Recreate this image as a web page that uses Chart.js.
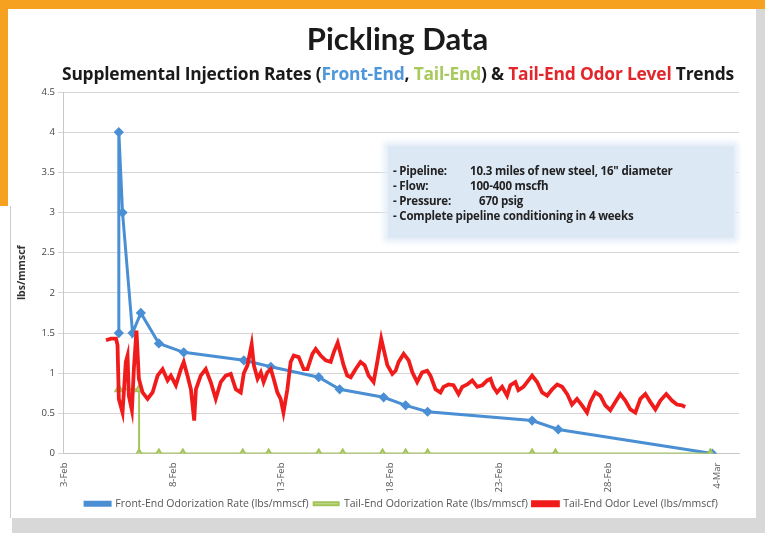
<!DOCTYPE html>
<html>
<head>
<meta charset="utf-8">
<script src="https://cdn.jsdelivr.net/npm/chart.js@4.4.0/dist/chart.umd.min.js"></script>
<style>
  html, body { margin: 0; padding: 0; background: #fff; }
  #wrap { position: relative; width: 765px; height: 533px; overflow: hidden; background: #fff; }
  #myChart { position: absolute; left: 0; top: 0; }
  .frame { position: absolute; }
  #title { position: absolute; left: 0; width: 795px; top: 19px; text-align: center;
           font: bold 31px Lato, sans-serif; color: #1a1a1a; }
  #subtitle { position: absolute; left: 62px; top: 61px; white-space: nowrap;
              font: bold 17.4px "Open Sans", sans-serif; color: #1a1a1a; letter-spacing: -0.2px; }
  #note { position: absolute; left: 388px; top: 146px; width: 346px; height: 92px;
          background: #dde8f5; box-shadow: 0 0 6px 4px #e4edf8; }
  #note div { position: absolute; left: 5px; font: bold 11.5px "Open Sans", sans-serif; color: #222; white-space: nowrap; letter-spacing: -0.2px; }
  #note span { position: absolute; }
</style>
</head>
<body>
<div id="wrap">
  <canvas id="myChart" width="765" height="533"></canvas>
  <div class="frame" style="left:0;top:0;width:765px;height:9px;background:#f6a11f"></div>
  <div class="frame" style="left:0;top:0;width:8px;height:206px;background:#f6a11f"></div>
  <div class="frame" style="left:10px;top:206px;width:1px;height:312px;background:#cfcfcf"></div>
  <div class="frame" style="left:12px;top:518px;width:753px;height:15px;background:#d8d8d8"></div>
  <div class="frame" style="left:756px;top:9px;width:9px;height:524px;background:#d8d8d8"></div>
  <div id="title">Pickling Data</div>
  <div id="subtitle">Supplemental Injection Rates (<span style="color:#4f97d8">Front-End</span>, <span style="color:#a8c95c">Tail-End</span>) &amp; <span style="color:#e3262b">Tail-End Odor Level</span> Trends</div>
  <div id="note">
    <div style="top:17px">- Pipeline:<span style="left:77px">10.3 miles of new steel, 16" diameter</span></div>
    <div style="top:32px">- Flow:<span style="left:77px">100-400 mscfh</span></div>
    <div style="top:47px">- Pressure:<span style="left:86px">670 psig</span></div>
    <div style="top:62px">- Complete pipeline conditioning in 4 weeks</div>
  </div>
</div>
<script>
// x values are days after 3-Feb
const tickLabels = ['3-Feb', '8-Feb', '13-Feb', '18-Feb', '23-Feb', '28-Feb', '4-Mar'];

const frontDays = [2.52, 2.52, 2.69, 3.15, 3.53, 4.36, 5.5, 8.26, 9.5, 11.7, 12.66, 14.68, 15.69, 16.7, 21.5, 22.7, 29.77];
const frontRate = [1.5, 4.0, 3.0, 1.5, 1.75, 1.37, 1.26, 1.16, 1.08, 0.95, 0.8, 0.7, 0.6, 0.52, 0.41, 0.3, 0.0];

const tailDays = [2.52, 3.45, 3.45, 4.36, 5.46, 8.21, 9.4, 11.7, 12.8, 14.63, 15.69, 16.7, 21.5, 22.57, 29.68];
const tailRate = [0.8, 0.8, 0, 0, 0, 0, 0, 0, 0, 0, 0, 0, 0, 0, 0];

const odorDays = [
  1.93, 2.16, 2.39, 2.46, 2.52, 2.69, 2.84, 2.92, 2.98, 3.12, 3.21, 3.33, 3.44, 3.61, 3.84, 4.07,
  4.3, 4.53, 4.76, 4.91, 5.14, 5.37, 5.5, 5.67, 5.83, 5.98, 6.06, 6.28, 6.51, 6.74, 6.97, 7.2,
  7.43, 7.66, 7.89, 8.12, 8.26, 8.43, 8.62, 8.72, 8.89, 9.04, 9.17, 9.34, 9.5, 9.63, 9.8, 9.95,
  10.08, 10.26, 10.41, 10.55, 10.78, 11.01, 11.18, 11.41, 11.56, 11.79, 12.02, 12.25, 12.39, 12.57, 12.71, 12.84,
  13.01, 13.17, 13.39, 13.62, 13.81, 13.99, 14.22, 14.39, 14.57, 14.68, 14.85, 15.08, 15.23, 15.37, 15.6, 15.83,
  16.0, 16.22, 16.45, 16.68, 16.83, 17.06, 17.29, 17.43, 17.66, 17.89, 18.12, 18.29, 18.52, 18.75, 18.98, 19.21,
  19.44, 19.59, 19.72, 19.89, 20.12, 20.35, 20.5, 20.73, 20.87, 21.1, 21.33, 21.5, 21.73, 21.96, 22.19, 22.42,
  22.65, 22.88, 23.11, 23.33, 23.56, 23.79, 24.02, 24.17, 24.4, 24.63, 24.86, 25.09, 25.32, 25.55, 25.78, 26.01,
  26.24, 26.47, 26.7, 26.93, 27.16, 27.39, 27.66, 27.92, 28.15, 28.38, 28.53
];
const odorLevel = [
  1.41, 1.43, 1.43, 1.35, 0.68, 0.51, 1.14, 1.22, 0.72, 0.54, 1.05, 1.53, 0.93, 0.76, 0.68, 0.76,
  0.97, 1.05, 0.91, 0.97, 0.85, 1.05, 1.14, 0.97, 0.8, 0.41, 0.8, 0.97, 1.05, 0.89, 0.68, 0.89,
  0.97, 0.99, 0.8, 0.76, 1.0, 1.1, 1.36, 1.1, 0.93, 1.01, 0.89, 1.01, 1.05, 0.93, 0.76, 0.68,
  0.51, 0.8, 1.14, 1.22, 1.2, 1.05, 1.05, 1.24, 1.3, 1.22, 1.16, 1.14, 1.26, 1.38, 1.24, 1.1,
  0.97, 0.95, 1.05, 1.14, 1.1, 0.97, 0.89, 1.14, 1.43, 1.3, 1.1, 0.99, 1.03, 1.14, 1.24, 1.16,
  1.01, 0.89, 1.01, 1.03, 0.97, 0.8, 0.76, 0.83, 0.86, 0.85, 0.74, 0.83, 0.86, 0.91, 0.83, 0.85,
  0.91, 0.93, 0.83, 0.76, 0.83, 0.72, 0.85, 0.89, 0.79, 0.83, 0.91, 0.97, 0.89, 0.76, 0.72, 0.8,
  0.86, 0.83, 0.74, 0.61, 0.68, 0.6, 0.51, 0.64, 0.76, 0.72, 0.6, 0.54, 0.64, 0.74, 0.66, 0.55,
  0.51, 0.68, 0.74, 0.64, 0.55, 0.66, 0.74, 0.66, 0.61, 0.6, 0.58
];

const toPoints = (xs, ys) => xs.map((x, i) => ({ x: x, y: ys[i] }));

document.addEventListener('DOMContentLoaded', () => {
  const ctx = document.getElementById('myChart');

  const data = {
    datasets: [
      {
        label: 'Front-End Odorization Rate (lbs/mmscf)',
        data: toPoints(frontDays, frontRate),
        borderColor: '#4a8fd3',
        backgroundColor: '#4a8fd3',
        borderWidth: 3,
        pointStyle: 'rectRot',
        pointRadius: 3,
        order: 3
      },
      {
        label: 'Tail-End Odorization Rate (lbs/mmscf)',
        data: toPoints(tailDays, tailRate),
        borderColor: '#a3c45a',
        backgroundColor: '#c6da96',
        borderWidth: 2,
        pointStyle: 'triangle',
        pointRadius: 4,
        order: 2
      },
      {
        label: 'Tail-End Odor Level (lbs/mmscf)',
        data: toPoints(odorDays, odorLevel),
        borderColor: '#f01c1c',
        backgroundColor: '#f01c1c',
        borderWidth: 3.8,
        pointRadius: 0,
        order: 1
      }
    ]
  };

  const config = {
    type: 'line',
    data: data,
    options: {
      responsive: false,
      animation: false,
      layout: { padding: { left: 12, right: 26, top: 92, bottom: 14 } },
      plugins: {
        tooltip: { enabled: false },
        legend: {
          position: 'bottom',
          fullSize: false,
          labels: {
            sort: (a, b) => a.datasetIndex - b.datasetIndex,
            boxWidth: 25,
            boxHeight: 3,
            padding: 5,
            color: '#555',
            font: { family: 'Open Sans', size: 10.5 }
          }
        }
      },
      scales: {
        x: {
          type: 'linear',
          min: 0, max: 31,
          ticks: {
            stepSize: 5,
            includeBounds: false,
            maxRotation: 90,
            minRotation: 90,
            autoSkip: false,
            padding: 1,
            color: '#555',
            font: { family: 'Open Sans', size: 9.5 },
            callback: (v) => tickLabels[v / 5]
          },
          grid: { display: false },
          border: { color: '#c8c8c8' }
        },
        y: {
          min: 0, max: 4.5,
          ticks: {
            stepSize: 0.5,
            color: '#444',
            font: { family: 'Open Sans', size: 9.5 },
            callback: (v) => String(v)
          },
          grid: { color: '#d6d6d6', tickLength: 6 },
          border: { color: '#c8c8c8' },
          title: {
            display: true,
            text: 'lbs/mmscf',
            color: '#333',
            padding: { top: 4, bottom: 10 },
            font: { family: 'Open Sans', size: 10.5, weight: 'bold' }
          }
        }
      }
    }
  };
  const myChart = new Chart(ctx, config);
});
</script>
</body>
</html>
